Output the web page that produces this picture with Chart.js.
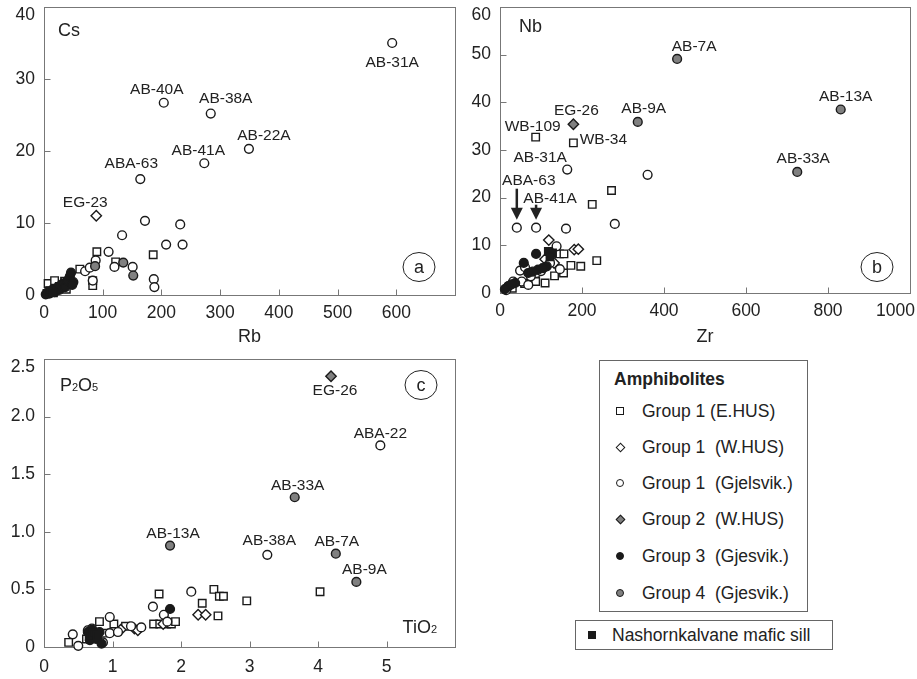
<!DOCTYPE html>
<html>
<head>
<meta charset="utf-8">
<script src="https://cdn.jsdelivr.net/npm/chart.js@4.4.1/dist/chart.umd.min.js"></script>
<style>
  body { margin: 0; width: 917px; height: 679px; overflow: hidden; position: relative; background: #fff;
         font-family: "Liberation Sans", Arial, sans-serif; color: #222; }
  .panel { position: absolute; }
  .box { position: absolute; border: 1px solid #666; box-sizing: border-box; }
  .row { position: absolute; height: 20px; line-height: 20px; font-size: 17.5px; white-space: pre; }
  .mk { position: absolute; box-sizing: border-box; border: 1.5px solid #1a1a1a; background: #fff; }
  .sq { width: 8px; height: 8px; }
  .ci { width: 8px; height: 8px; border-radius: 50%; }
  .di { width: 7px; height: 7px; transform: rotate(45deg); }
</style>
</head>
<body>
<div class="panel" style="left:0;top:0;width:470px;height:350px"><canvas id="chartA"></canvas></div>
<div class="panel" style="left:460px;top:0;width:457px;height:350px"><canvas id="chartB"></canvas></div>
<div class="panel" style="left:0;top:340px;width:470px;height:339px"><canvas id="chartC"></canvas></div>

<div class="box" style="left:599px;top:360px;width:209px;height:252px">
  <div class="row" style="left:14px;top:8px;font-weight:bold">Amphibolites</div>
  <div class="mk sq" style="left:16px;top:46px"></div>
  <div class="row" style="left:42px;top:40px">Group 1 (E.HUS)</div>
  <div class="mk di" style="left:17px;top:83px"></div>
  <div class="row" style="left:42px;top:76px">Group 1  (W.HUS)</div>
  <div class="mk ci" style="left:16px;top:118px"></div>
  <div class="row" style="left:42px;top:112px">Group 1  (Gjelsvik.)</div>
  <div class="mk di" style="left:17px;top:155px;background:#808080"></div>
  <div class="row" style="left:42px;top:148px">Group 2  (W.HUS)</div>
  <div class="mk ci" style="left:16px;top:191px;background:#1a1a1a"></div>
  <div class="row" style="left:42px;top:185px">Group 3  (Gjesvik.)</div>
  <div class="mk ci" style="left:16px;top:228px;background:#808080"></div>
  <div class="row" style="left:42px;top:222px">Group 4  (Gjesvik.)</div>
</div>
<div class="box" style="left:575px;top:620px;width:258px;height:30px">
  <div class="mk sq" style="left:12px;top:10px;background:#1a1a1a"></div>
  <div class="row" style="left:36px;top:4px">Nashornkalvane mafic sill</div>
</div>

<script>
const FONT = '"Liberation Sans", Arial, sans-serif';

// (a) Cs vs Rb  -- [Rb, Cs]
const a_g1E = [[7, 1.6], [18, 2.0], [35, 1.9], [38, 0.8], [61, 3.6], [83, 2.0], [83, 1.3], [90, 6.0], [122, 4.6], [186, 5.6], [26, 1.2]];
const a_g1W = [[89, 11.0], [30, 1.5], [42, 2.2]];
const a_g1G = [[593, 35.0], [204, 26.7], [284, 25.2], [349, 20.3], [273, 18.3], [164, 16.1], [172, 10.3], [232, 9.8], [133, 8.3],
               [208, 7.0], [236, 7.0], [110, 6.0], [88, 4.8], [120, 3.9], [151, 3.9], [187, 2.2], [188, 1.1], [83, 2.0], [70, 3.3],
               [78, 3.8], [12, 0.4], [20, 0.8]];
const a_g2 = [];
const a_g3 = [[3, 0.1], [6, 0.3], [9, 0.2], [12, 0.5], [15, 0.8], [18, 0.4], [22, 1.0], [26, 0.7], [28, 1.3], [33, 1.6], [36, 1.1],
              [40, 2.0], [44, 2.6], [46, 3.1], [50, 1.8], [48, 1.4]];
const a_g4 = [[87, 4.0], [135, 4.5], [152, 2.7]];
const a_sill = [[5, 0.2], [10, 0.6], [16, 0.3]];

// (b) Nb vs Zr  -- [Zr, Nb]
const b_g1E = [[87, 32.7], [179, 31.5], [272, 21.5], [225, 18.6], [236, 6.8], [197, 5.6], [173, 5.8], [155, 4.2], [133, 3.6],
               [110, 2.1], [87, 2.4], [145, 8.2], [156, 8.2], [60, 2.0], [30, 1.0]];
const b_g1W = [[119, 11.1], [181, 9.1], [191, 9.2], [110, 7.1], [132, 6.3], [100, 5.0]];
const b_g1G = [[164, 25.9], [360, 24.8], [41, 13.7], [88, 13.7], [161, 13.5], [280, 14.5], [138, 9.8], [49, 4.7], [61, 5.4],
               [146, 5.0], [53, 2.4], [20, 1.4], [32, 2.4], [69, 1.7], [122, 6.3], [89, 4.2], [100, 4.6], [75, 3.5], [15, 0.6]];
const b_g2 = [[179, 35.4]];
const b_g3 = [[88, 8.2], [58, 6.3], [20, 1.4], [37, 2.1], [69, 4.2], [93, 4.9], [114, 5.6], [105, 5.2], [80, 4.5], [12, 0.8], [28, 1.8]];
const b_g4 = [[432, 49.1], [336, 35.9], [831, 38.5], [725, 25.4]];
const b_sill = [[118, 8.7], [128, 8.4], [122, 7.6]];

// (c) P2O5 vs TiO2  -- [TiO2, P2O5]
const c_g1E = [[4.03, 0.48], [2.96, 0.40], [2.48, 0.50], [2.56, 0.44], [2.62, 0.44], [2.31, 0.38], [2.54, 0.27], [1.68, 0.46],
               [1.60, 0.20], [1.69, 0.20], [1.79, 0.20], [1.86, 0.20], [1.92, 0.22], [0.81, 0.22], [1.02, 0.20], [1.19, 0.18],
               [0.36, 0.04], [0.62, 0.07], [0.88, 0.12]];
const c_g1W = [[2.25, 0.28], [2.36, 0.28], [1.32, 0.16], [1.37, 0.145], [1.74, 0.20], [1.12, 0.15]];
const c_g1G = [[4.91, 1.75], [3.26, 0.80], [2.15, 0.48], [1.59, 0.35], [1.75, 0.28], [0.96, 0.26], [0.42, 0.11], [0.50, 0.01],
               [0.64, 0.145], [0.86, 0.04], [0.96, 0.12], [1.08, 0.13], [1.27, 0.18], [1.42, 0.17], [0.70, 0.16], [1.80, 0.22]];
const c_g2 = [[4.19, 2.35]];
const c_g3 = [[1.84, 0.33], [0.72, 0.10], [0.64, 0.13], [0.76, 0.07], [0.67, 0.06], [0.81, 0.13], [0.84, 0.03], [0.70, 0.15]];
const c_g4 = [[3.66, 1.30], [1.84, 0.88], [4.26, 0.81], [4.56, 0.565]];
const c_sill = [[0.66, 0.09], [0.72, 0.12], [0.78, 0.10]];

// sample labels: [text, group, index, dx, dy, arrowTopDy]
const labelsA = [
  ['AB-31A', a_g1G, 0, 0, 20], ['AB-40A', a_g1G, 1, -7, -13], ['AB-38A', a_g1G, 2, 15, -15],
  ['AB-22A', a_g1G, 3, 15, -13], ['AB-41A', a_g1G, 4, -6, -13], ['ABA-63', a_g1G, 5, -9, -15],
  ['EG-23', a_g1W, 0, -11, -13]
];
const labelsB = [
  ['AB-7A', b_g4, 0, 17, -12], ['AB-9A', b_g4, 1, 6, -13], ['AB-13A', b_g4, 2, 5, -13], ['AB-33A', b_g4, 3, 6, -13],
  ['EG-26', b_g2, 0, 3, -14], ['WB-109', b_g1E, 0, -3, -10], ['WB-34', b_g1E, 1, 30, -3],
  ['AB-31A', b_g1G, 0, -27, -12], ['ABA-63', b_g1G, 2, 12, -47, -39], ['AB-41A', b_g1G, 3, 14, -29, -23]
];
const labelsC = [
  ['EG-26', c_g2, 0, 4, 14], ['ABA-22', c_g1G, 0, 0, -12], ['AB-33A', c_g4, 0, 3, -12], ['AB-13A', c_g4, 1, 3, -12],
  ['AB-38A', c_g1G, 1, 2, -14], ['AB-7A', c_g4, 2, 1, -12], ['AB-9A', c_g4, 3, 8, -12]
];

const STYLES = {
  g1E: { pointStyle: 'rect', pointRadius: 5.3, pointBackgroundColor: '#fff', order: 5 },
  g1W: { pointStyle: 'rectRot', pointRadius: 5.2, pointBackgroundColor: '#fff', order: 4 },
  g1G: { pointStyle: 'circle', pointRadius: 4.4, pointBackgroundColor: '#fff', order: 3 },
  g2:  { pointStyle: 'rectRot', pointRadius: 5.2, pointBackgroundColor: '#808080', order: 2 },
  g3:  { pointStyle: 'circle', pointRadius: 4.4, pointBackgroundColor: '#1a1a1a', order: 1 },
  g4:  { pointStyle: 'circle', pointRadius: 4.4, pointBackgroundColor: '#808080', order: 2 },
  sill:{ pointStyle: 'rect', pointRadius: 5.3, pointBackgroundColor: '#1a1a1a', order: 0 }
};

function set(key, rows) {
  return Object.assign({
    data: rows.map(([x, y]) => ({ x, y })),
    pointBorderColor: '#1a1a1a',
    pointBorderWidth: 1.4,
    clip: false
  }, STYLES[key]);
}

function drawSub(ctx, parts, x, y, align) {
  let w = 0;
  parts.forEach(([t, s]) => { ctx.font = `${s}px ${FONT}`; w += ctx.measureText(t).width; });
  let cx = align === 'right' ? x - w : x;
  parts.forEach(([t, s]) => {
    ctx.font = `${s}px ${FONT}`;
    ctx.fillText(t, cx, y);
    cx += ctx.measureText(t).width;
  });
}

const deco = {
  id: 'deco',
  beforeDatasetsDraw(chart, args, o) {
    const { ctx, chartArea: a, scales: { x, y } } = chart;
    ctx.save();
    ctx.strokeStyle = '#777';
    ctx.lineWidth = 1;
    const L = Math.round(a.left) + 0.5, T = Math.round(a.top) + 0.5;
    const R = Math.round(a.right) + 0.5, B = Math.round(a.bottom) + 0.5;
    ctx.strokeRect(L, T, R - L, B - T);
    ctx.beginPath();
    x.ticks.forEach(t => {
      const px = Math.round(x.getPixelForValue(t.value)) + 0.5;
      ctx.moveTo(px, B); ctx.lineTo(px, B - 6);
    });
    y.ticks.forEach(t => {
      const py = Math.round(y.getPixelForValue(t.value)) + 0.5;
      ctx.moveTo(L, py); ctx.lineTo(L + 6, py);
    });
    ctx.stroke();

    // top y label sits a little below the frame, as in the figure
    ctx.fillStyle = '#222';
    ctx.font = `17.5px ${FONT}`;
    ctx.textAlign = 'right';
    ctx.textBaseline = 'middle';
    ctx.fillText(o.yTop, a.left - 9, y.getPixelForValue(y.max) + 8.5);
    ctx.restore();
  },
  afterDatasetsDraw(chart, args, o) {
    const { ctx, chartArea: a, scales: { x, y } } = chart;
    ctx.save();
    ctx.fillStyle = '#222';
    ctx.strokeStyle = '#222';

    // sample names
    ctx.textAlign = 'center';
    ctx.textBaseline = 'middle';
    ctx.font = `15.5px ${FONT}`;
    (o.labels || []).forEach(([text, rows, i, dx, dy, arrowTop]) => {
      const px = x.getPixelForValue(rows[i][0]);
      const py = y.getPixelForValue(rows[i][1]);
      ctx.fillText(text, px + dx, py + dy);
      if (arrowTop !== undefined) {
        const tip = py - 8;
        ctx.lineWidth = 2.5;
        ctx.beginPath();
        ctx.moveTo(px, py + arrowTop);
        ctx.lineTo(px, tip - 10);
        ctx.stroke();
        ctx.beginPath();
        ctx.moveTo(px - 6, tip - 12);
        ctx.lineTo(px + 6, tip - 12);
        ctx.lineTo(px, tip);
        ctx.closePath();
        ctx.fill();
      }
    });

    // element names
    ctx.textAlign = 'left';
    ctx.textBaseline = 'alphabetic';
    if (o.name) drawSub(ctx, o.name, a.left + o.nameDx, a.top + o.nameDy, 'left');
    if (o.corner) drawSub(ctx, o.corner, a.right + o.cornerDx, a.bottom + o.cornerDy, 'right');

    // circled panel letter
    const cx = a.right + o.letterDx;
    const cy = o.letterFromTop ? a.top + o.letterDy : a.bottom + o.letterDy;
    ctx.lineWidth = 1;
    ctx.beginPath();
    ctx.ellipse(cx, cy, 16, 14.5, 0, 0, Math.PI * 2);
    ctx.stroke();
    ctx.textAlign = 'center';
    ctx.textBaseline = 'middle';
    ctx.font = `18px ${FONT}`;
    ctx.fillText(o.letter, cx, cy + 1);
    ctx.restore();
  }
};

function makeChart(id, cfg) {
  const tickFont = { family: FONT, size: 17.5 };
  return new Chart(document.getElementById(id), {
    type: 'scatter',
    data: { datasets: cfg.datasets },
    plugins: [deco],
    options: {
      responsive: true,
      maintainAspectRatio: false,
      animation: false,
      layout: { padding: cfg.padding },
      plugins: {
        legend: { display: false },
        tooltip: { enabled: false },
        deco: Object.assign({ yTop: cfg.yLabel(cfg.yMax) }, cfg.deco)
      },
      scales: {
        x: {
          type: 'linear', position: 'bottom', min: cfg.xMin, max: cfg.xMax,
          border: { display: false },
          grid: { display: false, drawTicks: false },
          ticks: { stepSize: cfg.xStep, color: '#222', font: tickFont, padding: cfg.xPad, maxRotation: 0, autoSkip: false,
                   callback: cfg.xLabel },
          title: cfg.xTitle ? { display: true, text: cfg.xTitle, color: '#222', font: { family: FONT, size: 18 },
                                padding: { top: 0, bottom: 2.5 } } : { display: false },
          afterFit(s) { s.height = cfg.xHeight; s.paddingLeft = 0; s.paddingRight = 0; }
        },
        y: {
          type: 'linear', position: 'left', min: 0, max: cfg.yMax,
          border: { display: false },
          grid: { display: false, drawTicks: false },
          ticks: { stepSize: cfg.yStep, color: '#222', font: tickFont, padding: 9,
                   callback: v => (v >= cfg.yMax ? '' : cfg.yLabel(v)) },
          afterFit(s) { s.width = cfg.yWidth; s.paddingTop = 0; s.paddingBottom = 0; }
        }
      }
    }
  });
}

makeChart('chartA', {
  datasets: [set('sill', a_sill), set('g3', a_g3), set('g4', a_g4), set('g2', a_g2),
             set('g1G', a_g1G), set('g1W', a_g1W), set('g1E', a_g1E)],
  padding: { left: 0, top: 7, right: 15, bottom: 0 },
  xMin: 0, xMax: 700, xStep: 100, xPad: 8, xHeight: 55, xTitle: 'Rb',
  xLabel: v => (v >= 700 ? '' : String(v)),
  yMax: 40, yStep: 10, yWidth: 44, yLabel: v => String(v),
  deco: { labels: labelsA, name: [['Cs', 18]], nameDx: 14, nameDy: 29, letter: 'a', letterDx: -36, letterDy: -28 }
});

makeChart('chartB', {
  datasets: [set('sill', b_sill), set('g3', b_g3), set('g4', b_g4), set('g2', b_g2),
             set('g1G', b_g1G), set('g1W', b_g1W), set('g1E', b_g1E)],
  padding: { left: 0, top: 7, right: 7, bottom: 0 },
  xMin: 0, xMax: 1000, xStep: 200, xPad: 8, xHeight: 57, xTitle: 'Zr',
  xLabel: v => (v === 1000 ? '1000      ' : String(v)),
  yMax: 60, yStep: 10, yWidth: 40, yLabel: v => String(v),
  deco: { labels: labelsB, name: [['Nb', 18]], nameDx: 19, nameDy: 25, letter: 'b', letterDx: -33, letterDy: -26 }
});

makeChart('chartC', {
  datasets: [set('sill', c_sill), set('g3', c_g3), set('g4', c_g4), set('g2', c_g2),
             set('g1G', c_g1G), set('g1W', c_g1W), set('g1E', c_g1E)],
  padding: { left: 0, top: 19, right: 15, bottom: 0 },
  xMin: 0, xMax: 6, xStep: 1, xPad: 10, xHeight: 32, xTitle: null,
  xLabel: v => (v >= 6 ? '' : String(v)),
  yMax: 2.5, yStep: 0.5, yWidth: 44, yLabel: v => (v === 0 ? '0' : v.toFixed(1)),
  deco: { labels: labelsC, name: [['P', 18], ['2', 11], ['O', 18], ['5', 11]], nameDx: 16, nameDy: 32,
          corner: [['TiO', 18], ['2', 11]], cornerDx: -18, cornerDy: -14,
          letter: 'c', letterDx: -34, letterDy: 26, letterFromTop: true }
});
</script>
</body>
</html>
